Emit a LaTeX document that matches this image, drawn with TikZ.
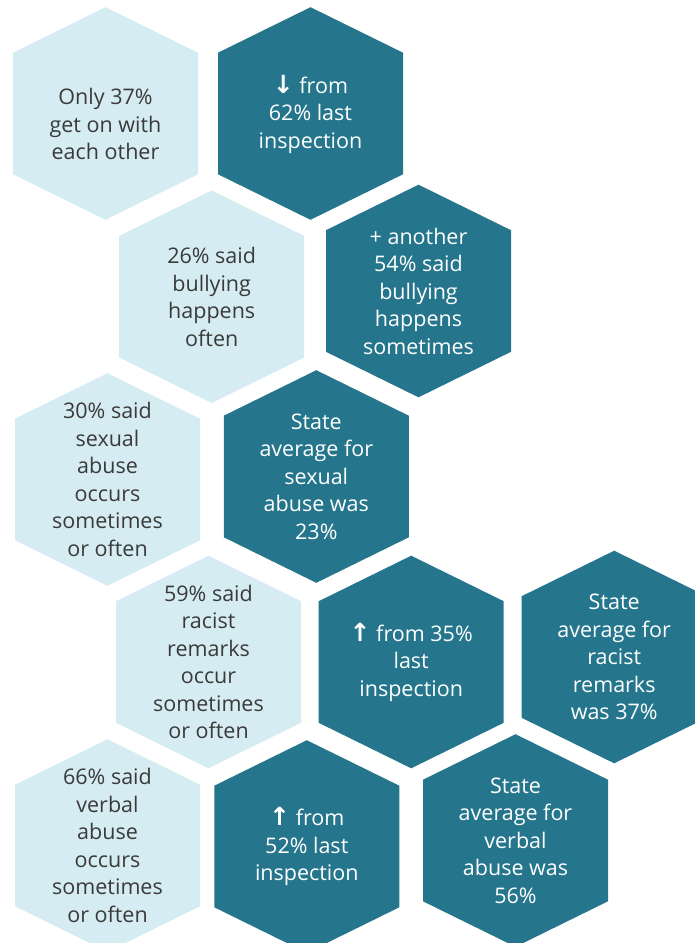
\documentclass[tikz,border=0pt]{standalone}
\usepackage{fontspec}
\setmainfont{Open Sans}
\newfontfamily\arrowfont{DejaVu Sans}
\definecolor{hexlight}{HTML}{D6ECF3}
\definecolor{hexdark}{HTML}{25768C}
\definecolor{inkdark}{HTML}{3A3A3A}
\newcommand{\arrowup}{{\arrowfont\bfseries\fontsize{25}{27.5}\selectfont ↑}}
\newcommand{\arrowdown}{{\arrowfont\bfseries\fontsize{25}{27.5}\selectfont ↓}}
\tikzset{
  hexcell/.pic={\fill (-92.5,-60.8) -- (0,-106.3) -- (92.5,-60.8) -- (92.5,60.8) -- (0,106.3) -- (-92.5,60.8) -- cycle;},
  lighttext/.style={align=center, text=inkdark, font=\fontsize{21.5}{27.5}\selectfont},
  darktext/.style={align=center, text=white, font=\fontsize{21.5}{27.5}\selectfont}
}
\begin{document}
\begin{tikzpicture}[x=1pt, y=-1pt]
    \useasboundingbox (0,0) rectangle (695,943);
    \clip (0,0) rectangle (695,943);

    % Getting on
    \pic[hexlight] at (105.5,113.5) {hexcell};
    \node[lighttext] (geton) at (105.5,124) {Only 37\%\\get on with\\each other};
    \pic[hexdark] at (310.5,113.5) {hexcell};
    \node[darktext] (getonprev) at (310.5,114) {\arrowdown{} from\\62\% last\\inspection};

    % Bullying
    \pic[hexlight] at (211.7,296.7) {hexcell};
    \node[lighttext] (bully) at (211.7,296.7) {26\% said\\bullying\\happens\\often};
    \pic[hexdark] at (418.5,291) {hexcell};
    \node[darktext] (bullysome) at (418.5,291) {+ another\\54\% said\\bullying\\happens\\sometimes};

    % Sexual abuse
    \pic[hexlight] at (107.5,479.5) {hexcell};
    \node[lighttext] (sexual) at (107.5,479.5) {30\% said\\sexual\\abuse\\occurs\\sometimes\\or often};
    \pic[hexdark] at (316.3,476.5) {hexcell};
    \node[darktext] (sexualstate) at (316.3,476.5) {State\\average for\\sexual\\abuse was\\23\%};

    % Racist remarks
    \pic[hexlight] at (208.5,662) {hexcell};
    \node[lighttext] (racist) at (208.5,662) {59\% said\\racist\\remarks\\occur\\sometimes\\or often};
    \pic[hexdark] at (411.2,662) {hexcell};
    \node[darktext] (racistprev) at (411.2,662) {\arrowup{} from 35\%\\last\\inspection};
    \pic[hexdark] at (614.2,657) {hexcell};
    \node[darktext] (raciststate) at (614.2,657) {State\\average for\\racist\\remarks\\was 37\%};

    % Verbal abuse
    \pic[hexlight] at (107.5,845.5) {hexcell};
    \node[lighttext] (verbal) at (107.5,845.5) {66\% said\\verbal\\abuse\\occurs\\sometimes\\or often};
    \pic[hexdark] at (306.8,846.5) {hexcell};
    \node[darktext] (verbalprev) at (306.8,846.5) {\arrowup{} from\\52\% last\\inspection};
    \pic[hexdark] at (515.5,840.5) {hexcell};
    \node[darktext] (verbalstate) at (515.5,840.5) {State\\average for\\verbal\\abuse was\\56\%};
\end{tikzpicture}
\end{document}
